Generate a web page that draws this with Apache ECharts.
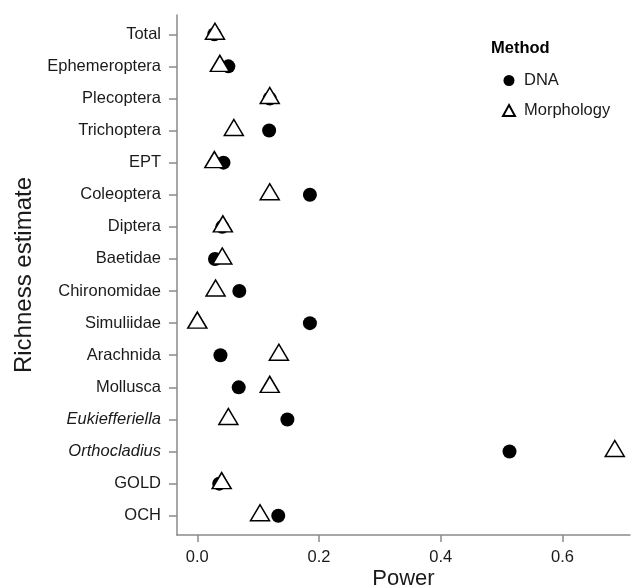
<!DOCTYPE html>
<html>
<head>
<meta charset="utf-8">
<script src="https://cdn.jsdelivr.net/npm/echarts@6/dist/echarts.min.js"></script>
<style>
  html, body { margin: 0; padding: 0; background: #fff; }
  #chart { width: 635px; height: 588px; }
</style>
</head>
<body>
<div id="chart"></div>
<script>
  // richness estimates, top to bottom
  const groups = [
    'Total', 'Ephemeroptera', 'Plecoptera', 'Trichoptera', 'EPT', 'Coleoptera',
    'Diptera', 'Baetidae', 'Chironomidae', 'Simuliidae', 'Arachnida', 'Mollusca',
    'Eukiefferiella', 'Orthocladius', 'GOLD', 'OCH',
  ];
  const italicGroups = ['Eukiefferiella', 'Orthocladius'];
  const dnaPower = [
    0.028, 0.051, 0.119, 0.118, 0.043, 0.185, 0.041, 0.029,
    0.069, 0.185, 0.038, 0.068, 0.148, 0.513, 0.036, 0.133,
  ];
  const morphPower = [
    0.029, 0.037, 0.119, 0.060, 0.028, 0.119, 0.042, 0.041,
    0.030, 0.000, 0.134, 0.119, 0.051, 0.686, 0.040, 0.103,
  ];
  const xTicks = [0, 0.2, 0.4, 0.6];

  const font = 'Liberation Sans, Arial, sans-serif';
  const axisGrey = '#8a8a8a';
  const textColor = '#1a1a1a';
  const chart = echarts.init(document.getElementById('chart'));

  chart.setOption({
    animation: false,
    textStyle: { fontFamily: font },
    grid: { left: 177, right: 5, top: 15, bottom: 53, outerBoundsMode: 'none', containLabel: false },
    title: {
      text: 'Method',
      left: 486,
      top: 35,
      textStyle: { fontSize: 16.5, fontWeight: 'bold', color: '#000', fontFamily: font },
    },
    legend: {
      orient: 'vertical',
      left: 497,
      top: 67,
      itemWidth: 12,
      itemHeight: 11,
      itemGap: 13,
      textStyle: { fontSize: 16.5, color: textColor, fontFamily: font, padding: [0, 0, 0, 4] },
      data: ['DNA', 'Morphology'],
    },
    xAxis: {
      type: 'value',
      min: -0.0334,
      max: 0.711,
      name: 'Power',
      nameLocation: 'middle',
      nameGap: 33,
      nameMoveOverlap: false,
      nameTextStyle: { fontSize: 22, color: textColor },
      axisLine: { show: true, onZero: false, lineStyle: { color: axisGrey, width: 1.5 } },
      axisTick: { show: true, length: 7, customValues: xTicks, lineStyle: { color: axisGrey, width: 1.5 } },
      axisLabel: {
        customValues: xTicks,
        fontSize: 16.5,
        color: textColor,
        margin: 14,
        formatter: (v) => v.toFixed(1),
      },
      splitLine: { show: false },
    },
    yAxis: {
      type: 'value',
      inverse: true,
      min: -0.6,
      max: groups.length - 1 + 0.6,
      name: 'Richness estimate',
      nameLocation: 'middle',
      nameGap: 141,
      nameMoveOverlap: false,
      nameTextStyle: { fontSize: 24, color: textColor },
      axisLine: { show: true, onZero: false, lineStyle: { color: axisGrey, width: 1.5 } },
      axisTick: { show: true, length: 8, customValues: groups.map((g, i) => i), lineStyle: { color: axisGrey, width: 1.5 } },
      axisLabel: {
        customValues: groups.map((g, i) => i),
        fontSize: 16.5,
        color: textColor,
        margin: 16,
        formatter: (v) => {
          const name = groups[Math.round(v)];
          return italicGroups.includes(name) ? '{i|' + name + '}' : name;
        },
        rich: { i: { fontStyle: 'italic', fontSize: 16.5, color: textColor, fontFamily: font } },
      },
      splitLine: { show: false },
    },
    series: [
      {
        name: 'DNA',
        type: 'scatter',
        symbol: 'circle',
        symbolSize: 14,
        itemStyle: { color: '#000', opacity: 1 },
        data: dnaPower.map((p, i) => [p, i]),
      },
      {
        name: 'Morphology',
        type: 'scatter',
        symbol: 'triangle',
        symbolSize: [19, 16],
        symbolOffset: [0, -3],
        itemStyle: { color: '#fff', borderColor: '#000', borderWidth: 1.5, opacity: 1 },
        data: morphPower.map((p, i) => [p, i]),
      },
    ],
  });
</script>
</body>
</html>
